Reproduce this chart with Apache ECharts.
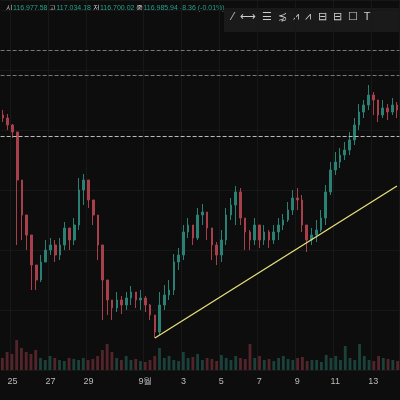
<!DOCTYPE html><html><head><meta charset="utf-8">
<script src="https://cdn.jsdelivr.net/npm/echarts@6/dist/echarts.min.js"></script>
<style>html,body{margin:0;background:#0e0e0e}#c{width:400px;height:400px}</style></head><body><div id="c"></div>
<script>
const closes=[282,275,268,220,185,165,135,120,138,150,155,145,155,172,160,175,210,220,200,185,155,120,100,92,100,95,102,108,100,102,95,85,68,95,105,110,138,145,168,175,162,185,188,172,155,145,160,185,195,208,182,168,160,175,160,168,160,168,175,180,190,202,200,175,160,165,170,182,208,230,238,245,250,260,275,288,295,305,300,285,292,288,295,290];
const firstOpen=285;
const highs=[290,286,276,262,200,178,150,132,145,160,162,160,162,178,172,182,222,226,215,198,170,140,112,100,108,104,108,114,108,110,104,96,80,108,115,120,146,152,175,182,172,192,196,186,168,158,170,192,202,214,212,180,170,182,172,175,170,175,182,186,198,210,212,205,172,172,180,190,215,238,248,252,258,268,282,296,300,315,308,298,300,296,302,298];
const lows=[278,270,262,155,160,150,110,110,118,140,145,138,140,150,150,155,170,195,192,175,140,80,85,80,88,86,90,95,92,90,88,80,62,65,90,100,105,130,140,162,155,160,175,160,140,135,138,155,180,175,175,150,150,155,152,155,152,156,160,170,178,185,190,168,148,155,158,168,175,205,225,232,240,245,255,270,282,290,285,278,282,280,285,282];
const volumes=[12,18,16,30,22,18,16,20,12,10,14,12,10,9,12,11,10,12,10,11,14,20,26,18,12,10,14,10,11,9,8,10,14,22,12,14,10,9,18,12,13,16,10,12,11,9,15,12,10,14,12,11,26,12,14,10,11,9,12,14,11,10,12,13,9,10,10,8,15,12,14,10,24,12,10,26,14,10,9,14,12,11,10,9];
const dayLabels={2:'25',10:'27',18:'29',30:'9월',38:'3',46:'5',54:'7',62:'9',70:'11',78:'13'};
const cats=closes.map((_,i)=>String(i));
const ohlc=closes.map((c,i)=>{const o=i?closes[i-1]:firstOpen;return [o,c,Math.min(lows[i],o,c),Math.max(highs[i],o,c)];});
const UP='#2a8072',DN='#a8404c';
const vol=volumes.map((v,i)=>({value:v,itemStyle:{color:(ohlc[i][1]>=ohlc[i][0]?UP:DN),opacity:0.45}}));
const chart=echarts.init(document.getElementById('c'));
chart.setOption({backgroundColor:'#0d0d0d',animation:false,
grid:[{left:0,right:0,top:0,height:370},{left:0,right:0,top:320,height:50}],
xAxis:[{type:'category',data:cats,gridIndex:0,boundaryGap:true,axisLine:{show:false},axisTick:{show:false},
 axisLabel:{interval:0,color:'#bbb',fontSize:9,margin:7,formatter:(v,i)=>dayLabels[i]||''},
 splitLine:{show:true,interval:(i)=>dayLabels[i]!==undefined,lineStyle:{color:'#181818'}}},
 {type:'category',data:cats,gridIndex:1,show:false}],
yAxis:[{type:'value',min:30,max:400,gridIndex:0,show:true,axisLabel:{show:false},axisLine:{show:false},splitLine:{lineStyle:{color:'#171717'}},interval:60},
 {type:'value',min:0,max:50,gridIndex:1,show:false}],
graphic:[
 {type:'text',left:6,top:5,style:{text:'{w|시}{g|116,977.58 }{w|고}{g|117,034.18 }{w|저}{g|116,700.02 }{w|종}{g|116,985.94 -8.36 (-0.01%)}',rich:{w:{fill:'#ddd',fontSize:7},g:{fill:'#26a08a',fontSize:7}}}},
 {type:'rect',shape:{x:224,y:8,width:176,height:24},style:{fill:'#1a1a1a'}},
 {type:'text',left:232,top:11,style:{text:'⁄  ⟷  ☰  ⋨  ⩘  ⩘  ⊟  ⊟  ☐  T',fill:'#ccc',fontSize:11}}
],
series:[{type:'candlestick',data:ohlc,xAxisIndex:0,yAxisIndex:0,barWidth:'45%',
 itemStyle:{color:UP,color0:DN,borderColor:UP,borderColor0:DN,borderWidth:1},
 markLine:{symbol:'none',silent:true,label:{show:false},data:[
  {yAxis:350,lineStyle:{color:'#777',type:'dashed',width:1}},
  {yAxis:325,lineStyle:{color:'#777',type:'dashed',width:1}},
  {yAxis:264,lineStyle:{color:'#bbb',type:'dashed',width:1}},
  [{coord:['32',62],lineStyle:{color:'#e6e07a',type:'solid',width:1.3}},{coord:['83',214]}]
 ]}},
 {type:'bar',data:vol,xAxisIndex:1,yAxisIndex:1,barWidth:'60%'}]
});
</script></body></html>
